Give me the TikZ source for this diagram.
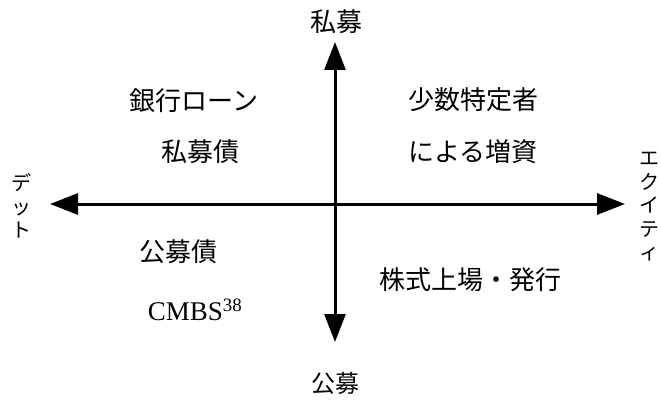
\documentclass[tikz,border=0pt]{standalone}
\usepackage{fontspec}
\setmainfont{Liberation Serif}
\newfontfamily\jp{Noto Sans CJK JP}
\usetikzlibrary{arrows.meta}
\tikzset{
  axis/.style={line width=3pt, {Triangle[length=28pt,width=21pt]}-{Triangle[length=28pt,width=21pt]}},
  lbl/.style={font=\jp\fontsize{26pt}{30pt}\selectfont, inner sep=0pt},
  vlbl/.style={font=\jp\fontsize{20pt}{23.5pt}\selectfont, inner sep=0pt, align=center},
}
\begin{document}
\begin{tikzpicture}[x=1pt,y=-1pt]
\useasboundingbox (0,0) rectangle (661,401);
\coordinate (L) at (50,204);
\coordinate (R) at (625,204);
\coordinate (T) at (335,42);
\coordinate (B) at (335,342);
\draw[axis] (L) -- (R);
\draw[axis] (T) -- (B);
\node[lbl] (pm) at (336,22) {私募};
\node[lbl, font=\jp\fontsize{24pt}{28pt}\selectfont] (km) at (335,383) {公募};
\node[lbl] (bank) at (194,101) {銀行ローン};
\node[lbl] (pmb) at (200,152) {私募債};
\node[lbl] (kmb) at (178,252) {公募債};
\node[lbl, font=\fontsize{27pt}{30pt}\selectfont] (cmbs) at (195,310) {CMBS\textsuperscript{38}};
\node[lbl] (shosu) at (473,100) {少数特定者};
\node[lbl] (zoushi) at (473,152) {による増資};
\node[lbl] (kabu) at (470,280) {株式上場・発行};
\node[vlbl] (debt) at (22,206) {デ\\ッ\\ト};
\node[vlbl] (eq) at (649,207) {エ\\ク\\イ\\テ\\ィ};
\end{tikzpicture}
\end{document}
